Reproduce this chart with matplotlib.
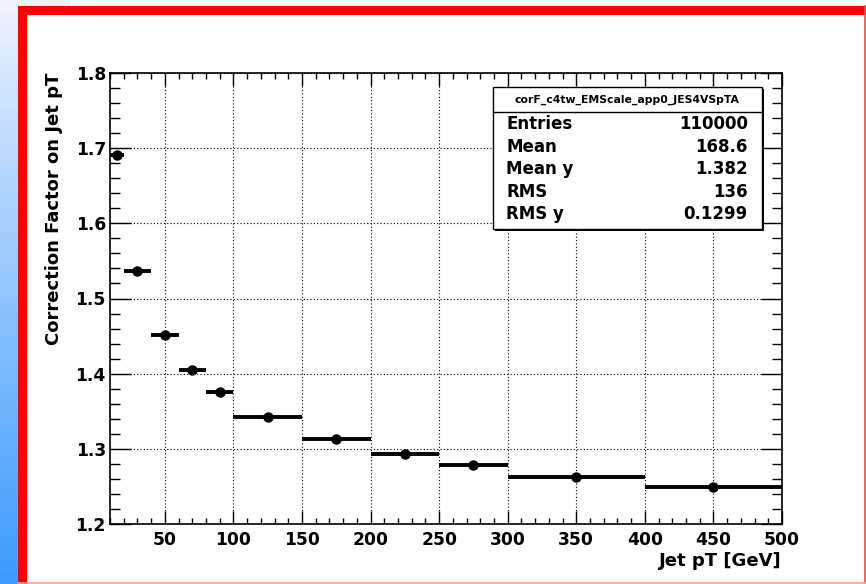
import numpy as np
import matplotlib
matplotlib.use('Agg')
import matplotlib.pyplot as plt
from matplotlib.patches import Rectangle
from matplotlib.ticker import MultipleLocator

# bin edges and bin contents
edges = [10, 20, 40, 60, 80, 100, 150, 200, 250, 300, 400, 500]
vals = [1.691, 1.537, 1.451, 1.405, 1.376, 1.343, 1.313, 1.293, 1.279, 1.263, 1.249]

stat_title = 'corF_c4tw_EMScale_app0_JES4VSpTA'
stat_names = ['Entries', 'Mean', 'Mean y', 'RMS', 'RMS y']
stat_vals = ['110000', '168.6', '1.382', '136', '0.1299']

W, H = 866, 584
plt.rcParams['font.family'] = ['DejaVu Sans']
plt.rcParams['font.weight'] = 'bold'

fig = plt.figure(figsize=(W/100, H/100), dpi=100)

def fx(px):
    return px / W
def fy(py):
    return 1 - py / H

# slide background: blue gradient strip on the left
bg = fig.add_axes([0, 0, 1, 1], zorder=-10)
bg.set_xlim(0, W)
bg.set_ylim(H, 0)
bg.axis('off')
g = np.linspace(0, 1, 256)[:, None]
c0 = np.array([0.95, 0.96, 0.99])
c1 = np.array([0.24, 0.61, 1.0])
grad = c0 + (c1 - c0) * (g ** 0.9)[:, :, None]
bg.imshow(grad, extent=[0, 70, H, 0], aspect='auto')
bg.add_patch(Rectangle((18, 6), W - 18, H - 6, facecolor='white', edgecolor='none'))
# red frame
bg.add_patch(Rectangle((18, 6), 9, H - 6, facecolor='#ff0000', edgecolor='none'))
bg.add_patch(Rectangle((18, 6), W - 18, 9, facecolor='#ff0000', edgecolor='none'))
bg.plot([W - 1.5, W - 1.5], [6, H], color='#e05050', lw=1.2)
bg.plot([18, W], [H - 1, H - 1], color='#f4a0a0', lw=1.2)

# main plot
x0, x1, y0, y1 = 110, 782, 73, 524
ax = fig.add_axes([fx(x0), fy(y1), fx(x1 - x0), (y1 - y0) / H])
e = np.array(edges, dtype=float)
xc = (e[:-1] + e[1:]) / 2
xw = (e[1:] - e[:-1]) / 2
ax.errorbar(xc, vals, xerr=xw, fmt='o', color='black', ms=6.5, elinewidth=2.8, capsize=0)
ax.set_xlim(10, 500)
ax.set_ylim(1.2, 1.8)
ax.xaxis.set_major_locator(MultipleLocator(50))
ax.xaxis.set_minor_locator(MultipleLocator(10))
ax.yaxis.set_major_locator(MultipleLocator(0.1))
ax.yaxis.set_minor_locator(MultipleLocator(0.02))
ax.grid(True, which='major', color='black', linestyle=(0, (1, 2)), linewidth=0.8)
ax.tick_params(axis='both', which='both', direction='in', top=True, right=True, labelsize=12.3, width=1)
ax.tick_params(axis='x', which='major', length=9.5, pad=5)
ax.tick_params(axis='x', which='minor', length=4.5)
ax.tick_params(axis='y', which='major', length=15, pad=3)
ax.tick_params(axis='y', which='minor', length=7.2)
ax.set_xticks([50, 100, 150, 200, 250, 300, 350, 400, 450, 500])
for s in ax.spines.values():
    s.set_linewidth(1.2)
ax.set_xlabel('Jet pT [GeV]', fontsize=13, fontweight='bold', loc='right', labelpad=2)
ax.set_ylabel('Correction Factor on Jet pT', fontsize=13, fontweight='bold', loc='top', labelpad=9)

# stats box
sb = fig.add_axes([0, 0, 1, 1], zorder=5)
sb.set_xlim(0, W)
sb.set_ylim(H, 0)
sb.axis('off')
sb.add_patch(Rectangle((495, 89), 269, 142, facecolor='black', edgecolor='none'))
sb.add_patch(Rectangle((493, 87), 269, 142, facecolor='white', edgecolor='black', lw=1))
sb.plot([493, 762], [112, 112], color='black', lw=1)
sb.text(627, 100, stat_title, ha='center', va='center', fontsize=7.8, fontweight='bold')
rows_y = [124, 147, 169, 192, 214]
for ny, nm, vv in zip(rows_y, stat_names, stat_vals):
    sb.text(506, ny, nm, ha='left', va='center', fontsize=12, fontweight='bold')
    sb.text(748, ny, vv, ha='right', va='center', fontsize=12, fontweight='bold')

fig.savefig('out.png', dpi=100)
